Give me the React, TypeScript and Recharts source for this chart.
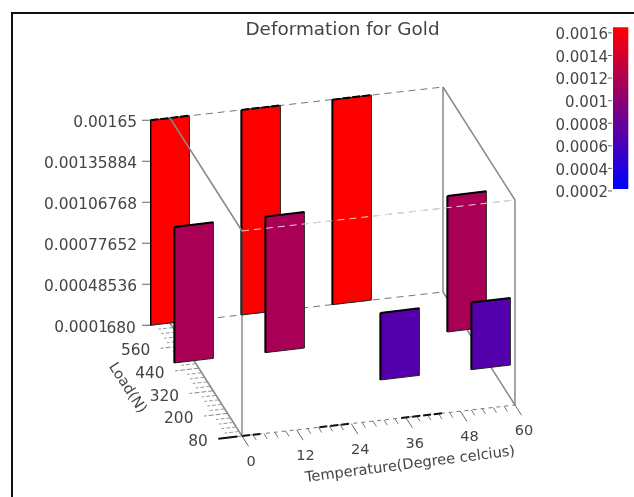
import { ComposedChart, Bar, XAxis, YAxis, ReferenceLine, ReferenceDot } from 'recharts';

// values
const temperatures = [0, 20, 40, 0, 20, 60, 40, 60];
const rowLoads = [680, 680, 680, 480, 480, 480, 280, 280];
const deformations = [0.00165, 0.00165, 0.00165, 0.00116, 0.00116, 0.00116, 0.00067, 0.00067];

const wallValues = [0.000194, 0.00048536, 0.00077652, 0.00106768, 0.00135884, 0.00165];
// the lowest label runs straight into the "680" of the load axis in the picture
const wallLabels = ['0.0001', '0.00048536', '0.00077652', '0.00106768', '0.00135884', '0.00165'];
const tempLabels = [0, 12, 24, 36, 48, 60];
const tempMinor = [2.4, 4.8, 7.2, 9.6, 14.4, 16.8, 19.2, 21.6, 26.4, 28.8, 31.2, 33.6, 38.4, 40.8, 43.2, 45.6, 50.4, 52.8, 55.2, 57.6];
const loadLabels = [80, 200, 320, 440, 560, 680];
const loadMinor = [104, 128, 152, 176, 224, 248, 272, 296, 344, 368, 392, 416, 464, 488, 512, 536, 584, 608, 632, 656];
const heavyTemps = [[0, 4], [17, 23.5], [35, 44]];
const scaleTicks = [0.0002, 0.0004, 0.0006, 0.0008, 0.001, 0.0012, 0.0014, 0.0016];

const FONT = '"DejaVu Sans", sans-serif';
const TEXT = '#444';
const LINE = '#777';

// oblique 3D view flattened onto the chart's two scales
const V_MIN = 0.000194;
const V_MAX = 0.00165;
const PX_PER_T = 4.55;
const PX_PER_V = 140797;
const X_DOMAIN = [-20.22, 63.3];
const Y_DOMAIN = [V_MIN - 34 / PX_PER_V, V_MIN + 386 / PX_PER_V];
const sceneX = (t: number, load: number) => t - ((load - 80) / 600) * (72 / PX_PER_T);
const sceneY = (t: number, load: number, v: number) =>
  v + ((t / 60) * 31 + ((load - 80) / 600) * 113) / PX_PER_V;

const rows = temperatures.map((t, i) => ({
  px: sceneX(t, rowLoads[i]),
  range: [sceneY(t, rowLoads[i], V_MIN), sceneY(t, rowLoads[i], deformations[i])],
  value: deformations[i],
  back: rowLoads[i] === 680,
}));

const colorFor = (v: number) => {
  const k = (v - V_MIN) / (V_MAX - V_MIN);
  return `rgb(${Math.round(255 * k)},0,${Math.round(255 * (1 - k))})`;
};

const BAR_WIDTH = 39;

const BarShape = (p: any) => {
  const { x, y, width, height, payload } = p;
  const s = 2.3;
  const left = x + width / 2 - BAR_WIDTH / 2;
  const right = left + BAR_WIDTH;
  const pts = `${left},${y + s} ${right},${y - s} ${right},${y + height - s} ${left},${y + height + s}`;
  return (
    <g>
      <polygon points={pts} fill={colorFor(payload.value)} stroke="#222" strokeWidth={1} />
      <line x1={left} y1={y + s} x2={left} y2={y + height + s} stroke="#000" strokeWidth={2} />
      <line
        x1={left}
        y1={y + s}
        x2={right}
        y2={y - s}
        stroke="#000"
        strokeWidth={2}
        strokeDasharray={payload.back ? '8 2' : undefined}
      />
    </g>
  );
};

const WallTick = (p: any) => {
  const text = wallLabels[p.index];
  // "680" follows on directly after the short label
  const shift = p.index === 0 ? 29 : 0;
  return (
    <text x={p.x - shift} y={p.y + 2} textAnchor="end" dominantBaseline="central" fontFamily={FONT} fontSize={15.4} fill={TEXT}>
      {text}
    </text>
  );
};

const seg = (a: [number, number, number], b: [number, number, number], props: any, key: string) => (
  <ReferenceLine
    key={key}
    ifOverflow="visible"
    segment={[
      { x: sceneX(a[0], a[1]), y: sceneY(a[0], a[1], a[2]) },
      { x: sceneX(b[0], b[1]), y: sceneY(b[0], b[1], b[2]) },
    ]}
    stroke={LINE}
    strokeWidth={1}
    {...props}
  />
);

const label = (text: string, t: number, load: number, dy: number, anchor: string, size: number, rotate = 0, dx = 0) => (
  <ReferenceDot
    key={text + t + load}
    ifOverflow="visible"
    x={sceneX(t, load)}
    y={sceneY(t, load, V_MIN)}
    r={0}
    shape={(p: any) => (
      <text
        x={p.cx + dx}
        y={p.cy + dy}
        textAnchor={anchor as any}
        dominantBaseline="central"
        fontFamily={FONT}
        fontSize={size}
        fill={TEXT}
        transform={rotate ? `rotate(${rotate} ${p.cx + dx} ${p.cy + dy})` : undefined}
      >
        {text}
      </text>
    )}
  />
);

const layer = { position: 'absolute', left: 0, top: 0 } as const;

export default function App() {
  return (
    <div style={{ position: 'absolute', left: 0, top: 0, width: 634, height: 497, overflow: 'hidden', background: '#fff', filter: 'blur(0.5px)' }}>
      <div style={{ position: 'absolute', left: 11, top: 12, width: 640, height: 500, borderLeft: '2px solid #111', borderTop: '2px solid #111' }} />
      <div style={{ position: 'absolute', left: 0, top: 19, width: 685, textAlign: 'center', fontFamily: FONT, fontSize: 18.4, color: TEXT, lineHeight: '20px' }}>
        Deformation for Gold
      </div>

      {/* box and floor, behind the bars */}
      <div style={layer}>
        <ComposedChart width={634} height={497} data={rows} margin={{ top: 50, right: 104, bottom: 27, left: 0 }}>
          <XAxis dataKey="px" type="number" domain={X_DOMAIN} allowDataOverflow hide />
          <YAxis
            type="number"
            width={150}
            domain={Y_DOMAIN}
            allowDataOverflow
            ticks={wallValues.map((v) => sceneY(-4.4, 680, v))}
            interval={0}
            axisLine={false}
            tickSize={8}
            tickMargin={5}
            tickLine={{ stroke: '#666' }}
            tick={WallTick}
          />

          {seg([60, 680, V_MIN], [60, 680, V_MAX], { stroke: '#888', strokeWidth: 1.5 }, 'v1')}
          {seg([60, 80, V_MIN], [60, 80, V_MAX], { stroke: '#888', strokeWidth: 1.5 }, 'v2')}
          {seg([0, 680, V_MAX], [60, 680, V_MAX], { strokeDasharray: '7 5' }, 'backTop')}
          {seg([0, 680, V_MIN], [60, 680, V_MIN], { strokeDasharray: '7 5' }, 'backFloor')}
          {seg([0, 80, V_MAX], [60, 80, V_MAX], { strokeDasharray: '7 5' }, 'frontTop')}
          {seg([60, 680, V_MAX], [60, 80, V_MAX], { stroke: '#888', strokeWidth: 1.5 }, 'rightTop')}
          {seg([60, 680, V_MIN], [60, 80, V_MIN], { stroke: '#888', strokeWidth: 1.5 }, 'rightFloor')}
          {seg([0, 680, V_MIN], [0, 80, V_MIN], { stroke: '#888', strokeWidth: 1.5 }, 'leftFloor')}
          {seg([0, 80, V_MIN], [60, 80, V_MIN], { strokeDasharray: '4 4' }, 'frontFloor')}

          {tempLabels.map((t) => seg([t, 80, V_MIN], [t, 25, V_MIN], { stroke: '#666' }, 'tt' + t))}
          {tempMinor.map((t) => seg([t, 80, V_MIN], [t, 52, V_MIN], { stroke: '#777' }, 'tm' + t))}
          {loadLabels.map((l) => seg([0, l, V_MIN], [-5.2, l, V_MIN], { stroke: '#888', strokeDasharray: '5 2' }, 'lt' + l))}
          {loadMinor.map((l) => seg([0, l, V_MIN], [-3.2, l, V_MIN], { stroke: '#999', strokeDasharray: '4 2' }, 'lm' + l))}
          {heavyTemps.map(([a, b]) => seg([a, 80, V_MIN], [b, 80, V_MIN], { stroke: '#111', strokeWidth: 2, strokeDasharray: '8 3' }, 'h' + a))}
          {seg([-5.2, 80, V_MIN], [-1, 80, V_MIN], { stroke: '#111', strokeWidth: 2 }, 'h80')}
        </ComposedChart>
      </div>

      {/* bars, and whatever crosses in front of them */}
      <div style={layer}>
        <ComposedChart width={634} height={497} data={rows} margin={{ top: 50, right: 104, bottom: 27, left: 150 }}>
          <XAxis dataKey="px" type="number" domain={X_DOMAIN} allowDataOverflow hide />
          <YAxis type="number" domain={Y_DOMAIN} allowDataOverflow hide />

          <Bar dataKey="range" shape={BarShape} isAnimationActive={false} />

          {seg([0, 680, V_MAX], [0, 80, V_MAX], { stroke: '#888', strokeWidth: 1.5 }, 'leftTop')}
          {seg([0, 80, V_MIN], [0, 80, V_MAX], { stroke: '#555' }, 'frontLeft')}
          {seg([0, 80, V_MAX], [60, 80, V_MAX], { stroke: '#fff', strokeDasharray: '7 5', opacity: 0.8 }, 'frontTopOver')}

          {tempLabels.map((t) => label(String(t), t, 5, 11, 'middle', 14.5))}
          {loadLabels.map((l) => label(String(l), -7.5, l, 1, 'end', 15.4))}
          {label('Load(N)', -17, 400, 3, 'middle', 14.5, 57, 2)}
          {label('Temperature(Degree celcius)', 34, -30, 24, 'middle', 14.6, -7.3)}
        </ComposedChart>
      </div>

      <div style={{ position: 'absolute', left: 540, top: 0 }}>
        <ComposedChart
          width={94}
          height={210}
          data={[{ name: 'scale', range: [0.000218, 0.00165] }]}
          margin={{ top: 16, right: 5, bottom: 13.4, left: 0 }}
        >
          <defs>
            <linearGradient id="heat" x1="0" y1="0" x2="0" y2="1">
              <stop offset="0%" stopColor="#ff0000" />
              <stop offset="100%" stopColor="#0000ff" />
            </linearGradient>
          </defs>
          <XAxis dataKey="name" hide />
          <YAxis
            type="number"
            width={72}
            domain={[0.00015, 0.00175]}
            ticks={scaleTicks}
            interval={0}
            axisLine={false}
            tickSize={4}
            tickMargin={0}
            tickLine={{ stroke: '#666' }}
            tick={{ fontFamily: FONT, fontSize: 15, fill: TEXT, dy: 1 }}
          />
          <Bar dataKey="range" barSize={17} fill="url(#heat)" isAnimationActive={false} />
        </ComposedChart>
      </div>
    </div>
  );
}
